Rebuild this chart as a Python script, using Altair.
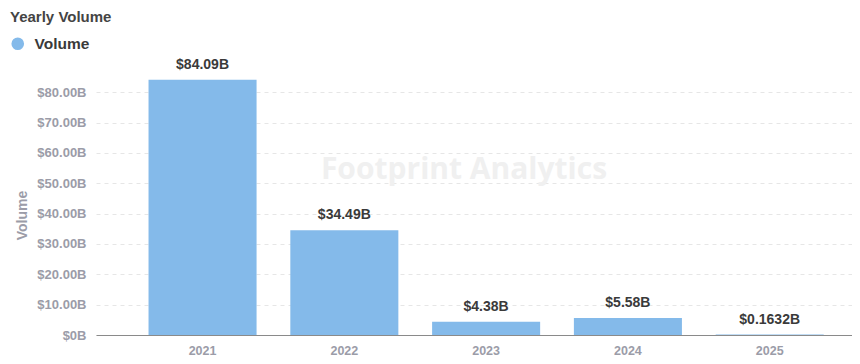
import altair as alt
import pandas as pd

years = ["2021", "2022", "2023", "2024", "2025"]
volumes = [84.09, 34.49, 4.38, 5.58, 0.1632]
value_labels = ["$84.09B", "$34.49B", "$4.38B", "$5.58B", "$0.1632B"]
series_name = "Volume"
chart_title = "Yearly Volume"
watermark = "Footprint Analytics"

df = pd.DataFrame({"year": years, "volume": volumes, "label": value_labels, "series": series_name})
one = pd.DataFrame({"title": [chart_title], "wm": [watermark]})

BAR = "#84BAEA"
GRAY = "#9B9CA8"
DARK = "#3A3A3A"
FONT = "Liberation Sans"

x = alt.X("year:N", title=None,
          scale=alt.Scale(paddingInner=0.238, paddingOuter=0.285, align=0.65),
          axis=alt.Axis(labelAngle=0, labelColor=GRAY, labelFontWeight="bold", labelFontSize=12.5,
                        labelPadding=9, ticks=False, domainColor="#8a8a8a", grid=False,
                        labelFont=FONT))
y = alt.Y("volume:Q", title="Volume",
          scale=alt.Scale(domain=[0, 85], nice=False),
          axis=alt.Axis(values=[0, 10, 20, 30, 40, 50, 60, 70, 80], labelOverlap=False, tickCount=9,
                        labelExpr="datum.value == 0 ? '$0B' : '$' + format(datum.value, '.2f') + 'B'",
                        labelColor=GRAY, labelFontWeight="bold", labelFontSize=13, labelPadding=10,
                        labelFont=FONT,
                        ticks=False, domain=False, gridColor="#E6E6E6", gridDash=[4, 4],
                        titleColor=GRAY, titleFontSize=14, titleFontWeight="bold", titleFont=FONT,
                        titleAngle=-90, titleX=-74, titleY=138, titleAlign="center", titleBaseline="middle"))

bars = alt.Chart(df).mark_bar(color=BAR).encode(
    x=x, y=y,
    color=alt.Color("series:N", scale=alt.Scale(range=[BAR]), title=None,
                    legend=alt.Legend(orient="none", legendX=-86, legendY=-41, symbolType="circle",
                                      symbolSize=160, symbolStrokeWidth=0, labelFontSize=15.5,
                                      labelFontWeight="bold", labelColor=DARK, labelFont=FONT,
                                      labelOffset=9, padding=0))
)

labels = alt.Chart(df).mark_text(dy=-8, baseline="bottom", fontSize=14, fontWeight="bold",
                                 color=DARK, font=FONT).encode(
    x=x, y=y, text="label:N")

title = alt.Chart(one).mark_text(align="left", baseline="top", fontSize=15, fontWeight="bold",
                                 color="#444444", font=FONT).encode(
    x=alt.value(-86), y=alt.value(-67), text="title:N")

wm = alt.Chart(one).mark_text(align="center", baseline="middle", fontSize=30, fontWeight="bold",
                              color="#F0F0F0", font="Open Sans").encode(
    x=alt.value(368), y=alt.value(93), text="wm:N")

chart = alt.layer(wm, bars, labels, title).properties(
    width=756, height=258,
    autosize=alt.AutoSizeParams(type="none"),
    padding={"left": 88, "top": 69, "right": 0, "bottom": 27},
).configure_view(stroke=None)

chart.save("out.html", embed_options={"renderer": "svg", "actions": False})
